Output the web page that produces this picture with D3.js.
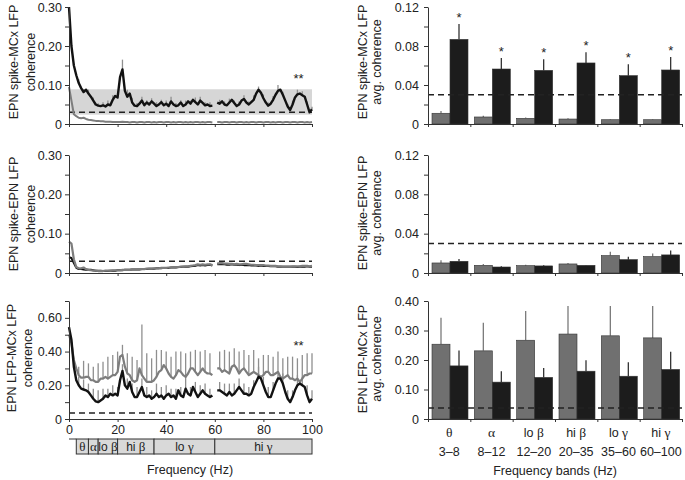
<!DOCTYPE html>
<html>
<head>
<meta charset="utf-8">
<script src="https://cdn.jsdelivr.net/npm/d3@7"></script>
<style>
  body { margin: 0; background: #fff; }
  text { font-family: "Liberation Sans", Arial, sans-serif; fill: #222; }
</style>
</head>
<body>
<svg width="685" height="480"></svg>
<script>
const svg = d3.select("svg");
const FONT = "'Liberation Sans', Arial, sans-serif";
const GREEK = "'Liberation Serif', 'DejaVu Serif', serif";

// ---- data: coherence spectra, 1 Hz steps (0..100 Hz), null = 60 Hz notch ----
const freqs = d3.range(0, 101);

const spikeMcxBlack = [
  0.300,0.200,0.150,0.125,0.105,0.092,0.082,0.088,0.078,0.070,
  0.060,0.050,0.047,0.046,0.048,0.045,0.050,0.048,0.062,0.072,
  0.068,0.120,0.140,0.085,0.070,0.078,0.055,0.047,0.046,0.052,
  0.060,0.048,0.055,0.050,0.058,0.052,0.046,0.050,0.056,0.048,
  0.052,0.046,0.058,0.050,0.046,0.048,0.055,0.046,0.050,0.058,
  0.052,0.062,0.056,0.050,0.060,0.054,0.048,0.050,0.046,0.047,
  null, 0.055,0.052,0.058,0.050,0.048,0.055,0.062,0.054,0.046,
  0.050,0.060,0.064,0.055,0.050,0.056,0.062,0.078,0.088,0.080,
  0.066,0.055,0.047,0.052,0.062,0.075,0.085,0.088,0.075,0.060,
  0.045,0.036,0.050,0.068,0.076,0.078,0.074,0.070,0.050,0.030,
  0.038
];
const spikeMcxGray = [
  0.095,0.060,0.025,0.020,0.016,0.015,0.016,0.013,0.011,0.010,
  0.009,0.008,0.008,0.007,0.007,0.006,0.006,0.006,0.005,0.005,
  0.005,0.005,0.006,0.005,0.005,0.004,0.005,0.005,0.004,0.005,
  0.005,0.004,0.005,0.005,0.004,0.005,0.004,0.005,0.005,0.004,
  0.005,0.005,0.004,0.005,0.004,0.005,0.005,0.004,0.005,0.004,
  0.005,0.004,0.005,0.005,0.004,0.005,0.004,0.005,0.005,0.004,
  null, 0.005,0.005,0.004,0.005,0.005,0.004,0.005,0.005,0.004,
  0.005,0.005,0.004,0.005,0.004,0.005,0.005,0.004,0.005,0.005,
  0.004,0.005,0.005,0.004,0.005,0.004,0.005,0.005,0.004,0.005,
  0.005,0.004,0.005,0.005,0.004,0.005,0.005,0.004,0.005,0.004,
  0.005
];
// SEM at even frequencies (0,2,..,100)
const spikeMcxBlackErr = [
  0, 0, 0.010, 0.008, 0.010, 0.008, 0.006, 0.008, 0.010, 0.012,
  0.015, 0.025, 0.018, 0.012, 0.008, 0.010, 0.006, 0.008, 0.010, 0.006,
  0.008, 0.012, 0.008, 0.006, 0.010, 0.008, 0.012, 0.010, 0.008, 0.010,
  0, 0.010, 0.008, 0.010, 0.006, 0.008, 0.010, 0.008, 0.012, 0.008,
  0.010, 0.008, 0.010, 0.015, 0.008, 0.006, 0.010, 0.012, 0.010, 0.008,
  0.006
];

const spikeEpnGray = [
  0.080,0.075,0.035,0.015,0.012,0.012,0.014,0.010,0.008,0.007,
  0.006,0.006,0.005,0.005,0.005,0.006,0.006,0.006,0.007,0.007,
  0.007,0.007,0.008,0.008,0.008,0.008,0.009,0.009,0.009,0.010,
  0.010,0.010,0.011,0.011,0.011,0.012,0.012,0.012,0.013,0.013,
  0.013,0.014,0.014,0.015,0.015,0.015,0.016,0.016,0.017,0.017,
  0.018,0.019,0.020,0.022,0.021,0.022,0.021,0.022,0.022,0.020,
  null, 0.024,0.025,0.025,0.024,0.024,0.023,0.023,0.022,0.023,
  0.022,0.022,0.023,0.023,0.022,0.021,0.021,0.020,0.020,0.020,
  0.020,0.019,0.019,0.018,0.018,0.018,0.017,0.017,0.016,0.016,
  0.016,0.016,0.017,0.017,0.017,0.017,0.018,0.018,0.018,0.017,
  0.018
];
const spikeEpnBlack = [
  0.040,0.038,0.025,0.013,0.010,0.010,0.009,0.008,0.008,0.008,
  0.007,0.006,0.006,0.006,0.005,0.005,0.005,0.006,0.006,0.006,
  0.007,0.007,0.007,0.008,0.008,0.008,0.009,0.009,0.009,0.009,
  0.010,0.010,0.010,0.011,0.011,0.011,0.012,0.012,0.012,0.013,
  0.013,0.013,0.014,0.014,0.014,0.015,0.015,0.016,0.016,0.016,
  0.017,0.018,0.018,0.020,0.019,0.020,0.019,0.020,0.021,0.019,
  null, 0.022,0.023,0.022,0.022,0.021,0.021,0.022,0.021,0.021,
  0.020,0.021,0.020,0.020,0.020,0.019,0.019,0.019,0.018,0.019,
  0.018,0.018,0.018,0.017,0.017,0.017,0.016,0.016,0.016,0.016,
  0.016,0.016,0.016,0.016,0.015,0.016,0.016,0.016,0.017,0.016,
  0.016
];

const lfpMcxGray = [
  0.500,0.450,0.350,0.300,0.260,0.245,0.245,0.250,0.250,0.230,
  0.230,0.220,0.220,0.240,0.240,0.250,0.240,0.250,0.260,0.260,
  0.280,0.370,0.380,0.310,0.270,0.260,0.230,0.220,0.230,0.300,
  0.260,0.240,0.220,0.220,0.220,0.230,0.250,0.280,0.290,0.320,
  0.300,0.270,0.250,0.240,0.260,0.290,0.280,0.260,0.250,0.270,
  0.300,0.300,0.280,0.260,0.280,0.300,0.280,0.270,0.270,0.260,
  null, 0.300,0.300,0.280,0.290,0.280,0.270,0.310,0.320,0.300,
  0.270,0.290,0.300,0.280,0.260,0.270,0.280,0.270,0.260,0.250,
  0.260,0.280,0.280,0.260,0.260,0.270,0.280,0.250,0.240,0.250,
  0.260,0.240,0.240,0.230,0.240,0.220,0.240,0.260,0.260,0.270,
  0.270
];
const lfpMcxBlack = [
  0.545,0.470,0.310,0.230,0.200,0.180,0.175,0.170,0.160,0.140,
  0.120,0.105,0.100,0.110,0.120,0.140,0.130,0.150,0.140,0.150,
  0.140,0.230,0.285,0.200,0.180,0.220,0.160,0.130,0.130,0.160,
  0.190,0.140,0.130,0.140,0.120,0.130,0.150,0.130,0.140,0.120,
  0.140,0.150,0.130,0.140,0.120,0.170,0.140,0.130,0.180,0.150,
  0.140,0.190,0.160,0.130,0.150,0.170,0.150,0.140,0.130,0.140,
  null, 0.170,0.170,0.160,0.150,0.140,0.160,0.140,0.150,0.170,
  0.190,0.170,0.150,0.150,0.140,0.150,0.190,0.220,0.250,0.240,
  0.200,0.160,0.130,0.130,0.170,0.210,0.240,0.240,0.210,0.160,
  0.120,0.100,0.130,0.170,0.200,0.210,0.200,0.190,0.140,0.100,
  0.120
];
const lfpMcxGrayErr = [
  0, 0, 0.05, 0.10, 0.08, 0.08, 0.11, 0.10, 0.13, 0.12,
  0.12, 0.06, 0.12, 0.14, 0.12, 0.30, 0.17, 0.14, 0.16, 0.12,
  0.10, 0.12, 0.14, 0.12, 0.14, 0.10, 0.13, 0.12, 0.13, 0.12,
  0, 0.10, 0.12, 0.13, 0.10, 0.13, 0.11, 0.12, 0.13, 0.10,
  0.12, 0.10, 0.11, 0.12, 0.12, 0.11, 0.13, 0.12, 0.14, 0.13,
  0.12
];
const lfpMcxBlackErr = [
  0, 0, 0.05, 0.06, 0.05, 0.06, 0.07, 0.06, 0.05, 0.06,
  0.05, 0.04, 0.06, 0.05, 0.06, 0.05, 0.06, 0.05, 0.06, 0.05,
  0.06, 0.05, 0.06, 0.05, 0.07, 0.05, 0.06, 0.05, 0.06, 0.05,
  0, 0.05, 0.06, 0.05, 0.06, 0.05, 0.06, 0.05, 0.04, 0.06,
  0.05, 0.06, 0.05, 0.04, 0.06, 0.05, 0.04, 0.06, 0.05, 0.06,
  0.05
];

// ---- data: band averages ----
const bandGreek = ["θ", "α", "β", "β", "γ", "γ"];
const bandPrefix = ["", "", "lo ", "hi ", "lo ", "hi "];
const bandNames = ["θ", "α", "lo β", "hi β", "lo γ", "hi γ"];
const bandRanges = ["3–8", "8–12", "12–20", "20–35", "35–60", "60–100"];
const bandEdges = [3, 8, 12, 20, 35, 60, 100];

const avgSpikeMcxGray = [0.0110, 0.0072, 0.0058, 0.0051, 0.0044, 0.0044];
const avgSpikeMcxGrayErr = [0.0023, 0.0013, 0.0008, 0.0007, 0.0005, 0.0005];
const avgSpikeMcxBlack = [0.0868, 0.0564, 0.0550, 0.0626, 0.0496, 0.0554];
const avgSpikeMcxBlackErr = [0.0158, 0.0113, 0.0113, 0.0109, 0.0116, 0.0133];

const avgSpikeEpnGray = [0.0102, 0.0078, 0.0075, 0.0092, 0.0177, 0.0167];
const avgSpikeEpnGrayErr = [0.0028, 0.0014, 0.0010, 0.0010, 0.0038, 0.0031];
const avgSpikeEpnBlack = [0.0119, 0.0061, 0.0072, 0.0078, 0.0136, 0.0184];
const avgSpikeEpnBlackErr = [0.0024, 0.0007, 0.0006, 0.0004, 0.0028, 0.0044];

const avgLfpGray = [0.2535, 0.231, 0.267, 0.288, 0.282, 0.275];
const avgLfpGrayErr = [0.090, 0.095, 0.099, 0.095, 0.101, 0.108];
const avgLfpBlack = [0.180, 0.125, 0.141, 0.162, 0.145, 0.168];
const avgLfpBlackErr = [0.052, 0.037, 0.032, 0.037, 0.047, 0.060];

// ---- ticks ----
const freqTicks = [0, 20, 40, 60, 80, 100];
const spikeTicks = [0, 0.05, 0.1, 0.15, 0.2, 0.25, 0.3];
const spikeLabels = [0, 0.1, 0.2, 0.3];
const lfpTicks = [0, 0.1, 0.2, 0.3, 0.4, 0.5, 0.6, 0.7];
const lfpLabels = [0, 0.2, 0.4, 0.6];
const avgTicks = [0, 0.02, 0.04, 0.06, 0.08, 0.1, 0.12];
const avgLabels = [0, 0.04, 0.08, 0.12];
const avgLfpTicks = [0, 0.1, 0.2, 0.3, 0.4];

const fmt = d => d === 0 ? "0" : d3.format(".2f")(d);
const GRAY_LINE = "#7d7d7d", BLACK_LINE = "#121212", ERR = "#8f8f8f";

function styleAxis(sel) {
  sel.attr("font-size", 12.5).attr("font-family", FONT);
  sel.select(".domain").attr("stroke", "#333");
  sel.selectAll(".tick line").attr("stroke", "#333");
  sel.selectAll(".tick text").attr("fill", "#222");
}

function yTitle(x1, x2, yc, line1, line2) {
  svg.append("text")
    .attr("transform", `translate(${x1},${yc}) rotate(-90)`)
    .attr("text-anchor", "middle").attr("font-size", 12.5)
    .text(line1);
  svg.append("text")
    .attr("transform", `translate(${x2},${yc}) rotate(-90)`)
    .attr("text-anchor", "middle").attr("font-size", 12.5)
    .text(line2);
}

// ---------------- left: spectra ----------------
const xF = d3.scaleLinear().domain([0, 100]).range([69, 312]);

function linePanel(p) {
  const y = d3.scaleLinear().domain([0, p.max]).range([p.bottom, p.top]);
  const g = svg.append("g");

  if (p.band) {
    g.append("rect")
      .attr("x", xF(0.5)).attr("width", xF(100) - xF(0.5))
      .attr("y", y(p.band[1])).attr("height", y(p.band[0]) - y(p.band[1]))
      .attr("fill", "#d6d6d6");
  }

  g.append("line")
    .attr("x1", xF(0)).attr("x2", xF(100))
    .attr("y1", y(p.thresh)).attr("y2", y(p.thresh))
    .attr("stroke", "#222").attr("stroke-width", 1.5).attr("stroke-dasharray", "6,4");

  p.errs.forEach(e => {
    const pts = e.err.map((v, i) => ({ f: 2 * i, v, base: e.line[2 * i] }))
      .filter(d => d.v > 0 && d.base != null);
    g.append("g").selectAll("line").data(pts).join("line")
      .attr("x1", d => xF(d.f)).attr("x2", d => xF(d.f))
      .attr("y1", d => y(d.base)).attr("y2", d => y(d.base + d.v))
      .attr("stroke", ERR).attr("stroke-width", 1.3);
  });

  const line = d3.line()
    .defined(d => d != null)
    .x((d, i) => xF(freqs[i]))
    .y(d => y(d));

  p.series.forEach(s => {
    g.append("path").datum(s.values)
      .attr("d", line).attr("fill", "none")
      .attr("stroke", s.color).attr("stroke-width", s.width)
      .attr("stroke-linejoin", "round");
  });

  const ya = g.append("g")
    .attr("transform", `translate(${xF(0)},0)`)
    .call(d3.axisLeft(y).tickValues(p.ticks)
      .tickFormat(d => p.labels.includes(d) ? fmt(d) : "")
      .tickSize(4).tickPadding(3).tickSizeOuter(0));
  styleAxis(ya);

  const xa = g.append("g")
    .attr("transform", `translate(0,${p.bottom})`)
    .call(d3.axisBottom(xF).tickValues(freqTicks)
      .tickFormat(p.xLabels ? d => d : "")
      .tickSize(3).tickPadding(3).tickSizeOuter(0));
  styleAxis(xa);

  if (p.star) {
    g.append("text").attr("x", xF(94.5)).attr("y", p.star)
      .attr("text-anchor", "middle").attr("font-size", 13).text("**");
  }
}

linePanel({
  top: 7, bottom: 124, max: 0.30, ticks: spikeTicks, labels: spikeLabels,
  thresh: 0.03, band: [0.024, 0.089], star: 82.5,
  errs: [{ line: spikeMcxBlack, err: spikeMcxBlackErr }],
  series: [
    { values: spikeMcxGray, color: GRAY_LINE, width: 2 },
    { values: spikeMcxBlack, color: BLACK_LINE, width: 2.4 }
  ]
});
linePanel({
  top: 155, bottom: 273, max: 0.30, ticks: spikeTicks, labels: spikeLabels,
  thresh: 0.03, errs: [],
  series: [
    { values: spikeEpnBlack, color: BLACK_LINE, width: 2 },
    { values: spikeEpnGray, color: GRAY_LINE, width: 2.2 }
  ]
});
linePanel({
  top: 301, bottom: 419, max: 0.70, ticks: lfpTicks, labels: lfpLabels,
  thresh: 0.035, xLabels: true, star: 350,
  errs: [
    { line: lfpMcxGray, err: lfpMcxGrayErr },
    { line: lfpMcxBlack, err: lfpMcxBlackErr }
  ],
  series: [
    { values: lfpMcxGray, color: GRAY_LINE, width: 2.2 },
    { values: lfpMcxBlack, color: BLACK_LINE, width: 2.4 }
  ]
});

yTitle(18, 35, 62, "EPN spike-MCx LFP", "coherence");
yTitle(18, 35, 214, "EPN spike-EPN LFP", "coherence");
yTitle(16, 32, 358, "EPN LFP-MCx LFP", "coherence");

// frequency band boxes
const boxTop = 439, boxBottom = 454;
svg.append("line")
  .attr("x1", xF(0)).attr("x2", xF(3)).attr("y1", boxTop).attr("y2", boxTop)
  .attr("stroke", "#333");
const boxes = svg.append("g").selectAll("g")
  .data(bandNames.map((n, i) => ({ i, a: bandEdges[i], b: bandEdges[i + 1] })))
  .join("g");
boxes.append("rect")
  .attr("x", d => xF(d.a)).attr("width", d => xF(d.b) - xF(d.a))
  .attr("y", boxTop).attr("height", boxBottom - boxTop)
  .attr("fill", "#d9d9d9").attr("stroke", "#333").attr("stroke-width", 1);
const boxText = boxes.append("text")
  .attr("x", d => (xF(d.a) + xF(d.b)) / 2).attr("y", 451)
  .attr("text-anchor", "middle").attr("font-size", 12);
boxText.append("tspan").text(d => bandPrefix[d.i]);
boxText.append("tspan").attr("font-family", GREEK).attr("font-size", 13).text(d => bandGreek[d.i]);

svg.append("text").attr("x", 190).attr("y", 474)
  .attr("text-anchor", "middle").attr("font-size", 12.5).text("Frequency (Hz)");

// ---------------- right: band averages ----------------
const xb = d3.scaleBand().domain(bandNames).range([428, 682]);
const xs = d3.scaleBand().domain(["gray", "black"]).range([4, 40]);
const xEdge = d3.scaleLinear().domain([0, 6]).range([428, 682]);

function barPanel(p) {
  const y = d3.scaleLinear().domain([0, p.max]).range([p.bottom, p.top]);
  const g = svg.append("g");

  const rows = bandNames.flatMap((b, i) => [
    { b, k: "gray", v: p.gray[i], e: p.grayErr[i] },
    { b, k: "black", v: p.black[i], e: p.blackErr[i] }
  ]);
  const cx = d => xb(d.b) + xs(d.k) + xs.bandwidth() / 2;

  g.append("g").selectAll("line").data(rows).join("line")
    .attr("x1", cx).attr("x2", cx)
    .attr("y1", d => y(d.v)).attr("y2", d => y(d.v + d.e))
    .attr("stroke", d => d.k === "gray" ? "#7a7a7a" : "#333")
    .attr("stroke-width", 1.3);

  g.append("g").selectAll("rect").data(rows).join("rect")
    .attr("x", d => xb(d.b) + xs(d.k)).attr("width", xs.bandwidth())
    .attr("y", d => y(d.v)).attr("height", d => y(0) - y(d.v))
    .attr("fill", d => d.k === "gray" ? "#707070" : "#1c1c1c")
    .attr("stroke", "#333").attr("stroke-width", 0.6);

  g.append("line")
    .attr("x1", 428).attr("x2", 682)
    .attr("y1", y(p.thresh)).attr("y2", y(p.thresh))
    .attr("stroke", "#222").attr("stroke-width", 1.5).attr("stroke-dasharray", "6,4");

  if (p.stars) {
    g.append("g").selectAll("text").data(rows.filter(d => d.k === "black")).join("text")
      .attr("x", cx).attr("y", d => y(d.v + d.e) - 2)
      .attr("text-anchor", "middle").attr("font-size", 13).text("*");
  }

  const ya = g.append("g")
    .attr("transform", "translate(428,0)")
    .call(d3.axisLeft(y).tickValues(p.ticks)
      .tickFormat(d => p.labels.includes(d) ? fmt(d) : "")
      .tickSize(4).tickPadding(5).tickSizeOuter(0));
  styleAxis(ya);

  const xa = g.append("g")
    .attr("transform", `translate(0,${p.bottom})`)
    .call(d3.axisBottom(xEdge).tickValues([0, 1, 2, 3, 4, 5, 6])
      .tickFormat("").tickSize(3).tickSizeOuter(0));
  styleAxis(xa);
}

barPanel({
  top: 7, bottom: 124, max: 0.12, ticks: avgTicks, labels: avgLabels, thresh: 0.03, stars: true,
  gray: avgSpikeMcxGray, grayErr: avgSpikeMcxGrayErr,
  black: avgSpikeMcxBlack, blackErr: avgSpikeMcxBlackErr
});
barPanel({
  top: 155, bottom: 273, max: 0.12, ticks: avgTicks, labels: avgLabels, thresh: 0.03,
  gray: avgSpikeEpnGray, grayErr: avgSpikeEpnGrayErr,
  black: avgSpikeEpnBlack, blackErr: avgSpikeEpnBlackErr
});
barPanel({
  top: 301, bottom: 419, max: 0.40, ticks: avgLfpTicks, labels: avgLfpTicks, thresh: 0.037,
  gray: avgLfpGray, grayErr: avgLfpGrayErr,
  black: avgLfpBlack, blackErr: avgLfpBlackErr
});

yTitle(367, 381, 62, "EPN spike-MCx LFP", "avg. coherence");
yTitle(367, 381, 213, "EPN spike-EPN LFP", "avg. coherence");
yTitle(367, 381, 359, "EPN LFP-MCx LFP", "avg. coherence");

// category labels
const cat = svg.append("g").selectAll("g")
  .data(bandNames.map((n, i) => i)).join("g");
const catTop = cat.append("text")
  .attr("x", i => xb(bandNames[i]) + xb.bandwidth() / 2).attr("y", 437)
  .attr("text-anchor", "middle").attr("font-size", 12.5);
catTop.append("tspan").text(i => bandPrefix[i]);
catTop.append("tspan").attr("font-family", GREEK).attr("font-size", 13.5).text(i => bandGreek[i]);
cat.append("text")
  .attr("x", i => xb(bandNames[i]) + xb.bandwidth() / 2).attr("y", 456)
  .attr("text-anchor", "middle").attr("font-size", 12.5)
  .text(i => bandRanges[i]);

svg.append("text").attr("x", 555).attr("y", 475)
  .attr("text-anchor", "middle").attr("font-size", 12.5).text("Frequency bands (Hz)");
</script>
</body>
</html>
